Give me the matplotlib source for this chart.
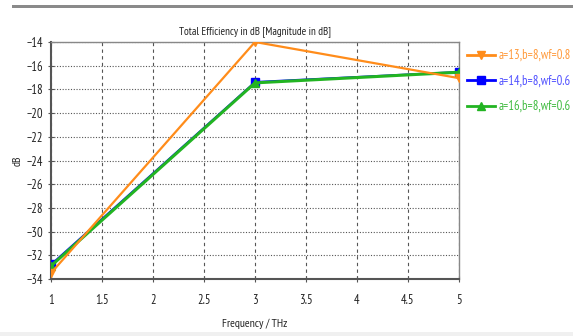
import matplotlib
matplotlib.use("Agg")
import matplotlib.pyplot as plt
from matplotlib import font_manager as fm

names = {f.name for f in fm.fontManager.ttflist}
fam = "DejaVu Sans"
for cand in ["PT Sans Narrow", "Roboto Condensed", "Archivo Narrow", "Asap Condensed", "Barlow Condensed"]:
    if cand in names:
        fam = cand
        break
plt.rcParams['font.family'] = [fam, 'DejaVu Sans']

freq = [1, 3, 5]
s1 = [-33.5, -14.0, -17.05]
s2 = [-32.75, -17.35, -16.5]
s3 = [-32.9, -17.45, -16.55]
labels = ["a=13,b=8,wf=0.8", "a=14,b=8,wf=0.6", "a=16,b=8,wf=0.6"]
colors = ["#ff8c1a", "#0000ff", "#22b422"]
textcolors = ["#ff9a3c", "#5050ff", "#40bb40"]
markers = ["v", "s", "^"]
xticks = [1, 1.5, 2, 2.5, 3, 3.5, 4, 4.5, 5]
xticklabels = ["1", "1.5", "2", "2.5", "3", "3.5", "4", "4.5", "5"]
yticks = list(range(-34, -13, 2))

fig = plt.figure(figsize=(5.73, 3.36), dpi=100)
fig.patch.set_facecolor("white")
fig.add_artist(plt.Rectangle((12/573, 1-8/336), 1, 3/336, transform=fig.transFigure, color="#8a8a8a", lw=0))
fig.add_artist(plt.Rectangle((0, 0), 1, 4/336, transform=fig.transFigure, color="#f0f0f0", lw=0))

ax = fig.add_axes([51/573, 1-279/336, (459-51)/573, (279-42)/336])
handles = []
lws = [1.6, 1.0, 2.2]
zs = [4, 3, 3.5]
for ys, c, m, lab, lw, z in zip([s1, s2, s3], colors, markers, labels, lws, zs):
    h, = ax.plot(freq, ys, color=c, marker=m, markersize=6, lw=lw, label=lab, zorder=z)
    handles.append(h)
ax.set_xlim(1, 5)
ax.set_ylim(-34, -14)
ax.set_xticks(xticks)
ax.set_xticklabels(xticklabels)
ax.set_yticks(yticks)
ax.xaxis.grid(True, linestyle=(0, (3, 3)), color="#555555", lw=0.8)
ax.yaxis.grid(True, linestyle=(0, (1, 1.5)), color="#555555", lw=0.8)
ax.tick_params(axis='both', labelsize=9, color="#555555", length=4, direction='inout', labelcolor="#222222")
ax.tick_params(axis='x', pad=9)
for sp in ['left', 'bottom']:
    ax.spines[sp].set_color("#555555")
    ax.spines[sp].set_linewidth(1.5)
for sp in ['top', 'right']:
    ax.spines[sp].set_color("#888888")
    ax.spines[sp].set_linewidth(1.0)
ax.set_title("Total Efficiency in dB [Magnitude in dB]", fontsize=8, color="#222222", pad=6)
ax.set_xlabel("Frequency / THz", fontsize=8.5, color="#222222", labelpad=8)
ax.set_ylabel("dB", fontsize=8.5, color="#222222", labelpad=3)

leg = fig.legend(handles=[handles[0], handles[1], handles[2]], labels=labels, loc='upper left',
                 bbox_to_anchor=(462/573, 1-44/336),
                 frameon=False, fontsize=9, handlelength=2.2, labelspacing=1.0, handletextpad=0.3,
                 borderaxespad=0)
for t, c in zip(leg.get_texts(), textcolors):
    t.set_color(c)
for lh in leg.legend_handles:
    lh.set_linewidth(2.0)

fig.savefig("out.png", dpi=100)
